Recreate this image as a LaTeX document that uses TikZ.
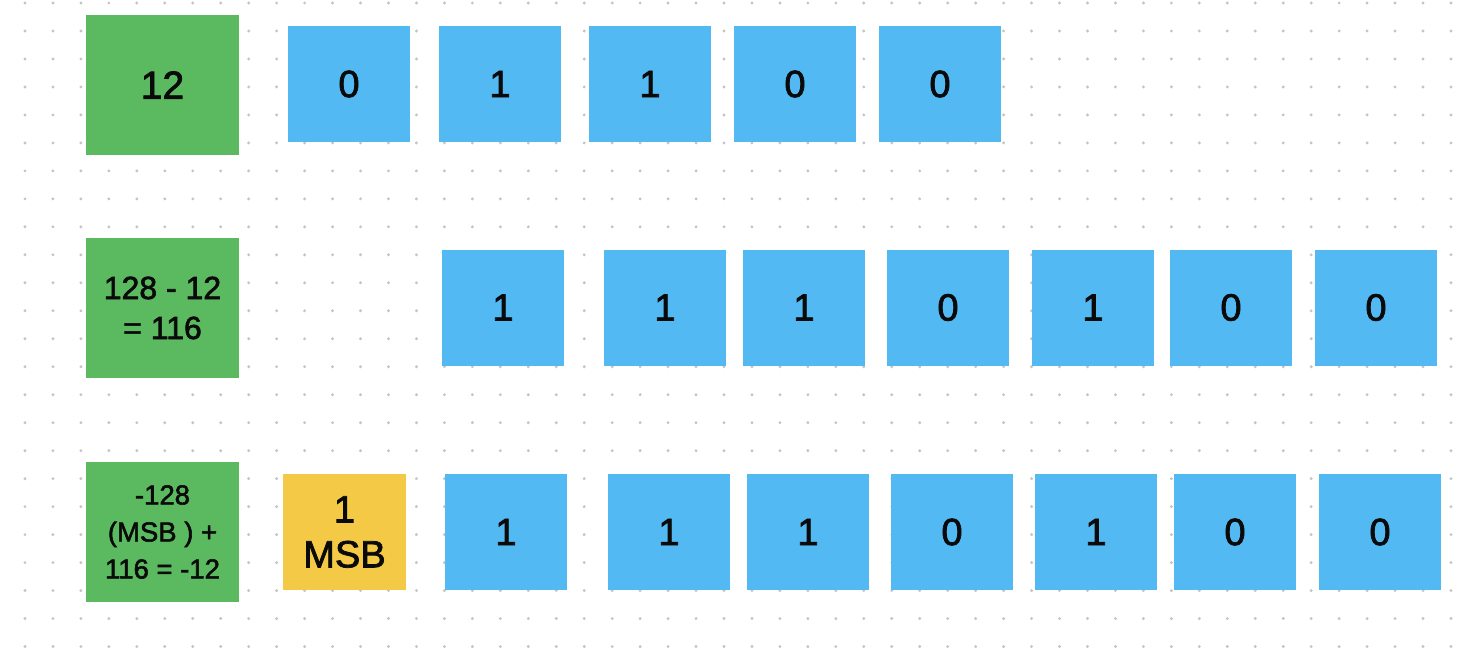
\documentclass[tikz,border=0pt]{standalone}
\usepackage{fontspec}
\setmainfont{Liberation Sans}[FakeBold=2]
\definecolor{gfill}{HTML}{5BBA60}
\definecolor{bfill}{HTML}{53B9F2}
\definecolor{yfill}{HTML}{F4C945}
\definecolor{dotc}{HTML}{C4C4C4}
\definecolor{txt}{HTML}{0A0A0A}
\tikzset{
  cell/.style={inner sep=0pt, minimum width=122pt, minimum height=116pt, text=txt, align=center, font=\fontsize{38}{45}\selectfont},
  bitbox/.style={cell, fill=bfill},
  msbbox/.style={cell, fill=yfill, minimum width=123pt},
  valbox/.style={cell, fill=gfill, minimum width=153pt, minimum height=140pt},
}
\begin{document}
\begin{tikzpicture}[x=1pt,y=-1pt]
\useasboundingbox (0,0) rectangle (1480,661);
\fill[white] (0,0) rectangle (1480,661);
% dot grid
\foreach \i in {0,...,51}{
  \foreach \j in {0,...,23}{
    \fill[dotc] (25+27.96*\i, 3+27.98*\j) circle (1.6pt);
  }
}
% row 1
\node[valbox, font=\fontsize{39}{45}\selectfont] (g1) at (162.5,85) {12};
\foreach \x/\b [count=\k] in {349/0,500/1,650/1,795/0,940/0}{
  \node[bitbox] (a\k) at (\x,84) {\b};
}
% row 2
\node[valbox, font=\fontsize{32}{40}\selectfont] (g2) at (162.5,308) {128 - 12\\= 116};
\foreach \x/\b [count=\k] in {503/1,665/1,804/1,948/0,1093/1,1231/0,1376/0}{
  \node[bitbox] (c\k) at (\x,307.5) {\b};
}
% row 3
\node[valbox, font=\fontsize{27.5}{37}\selectfont] (g3) at (162.5,532) {-128\\(MSB ) +\\116 = -12};
\node[msbbox] (msb) at (344.5,532) {1\\MSB};
\foreach \x/\b [count=\k] in {506/1,669/1,808/1,952/0,1096/1,1235/0,1380/0}{
  \node[bitbox] (d\k) at (\x,532) {\b};
}
\end{tikzpicture}
\end{document}
